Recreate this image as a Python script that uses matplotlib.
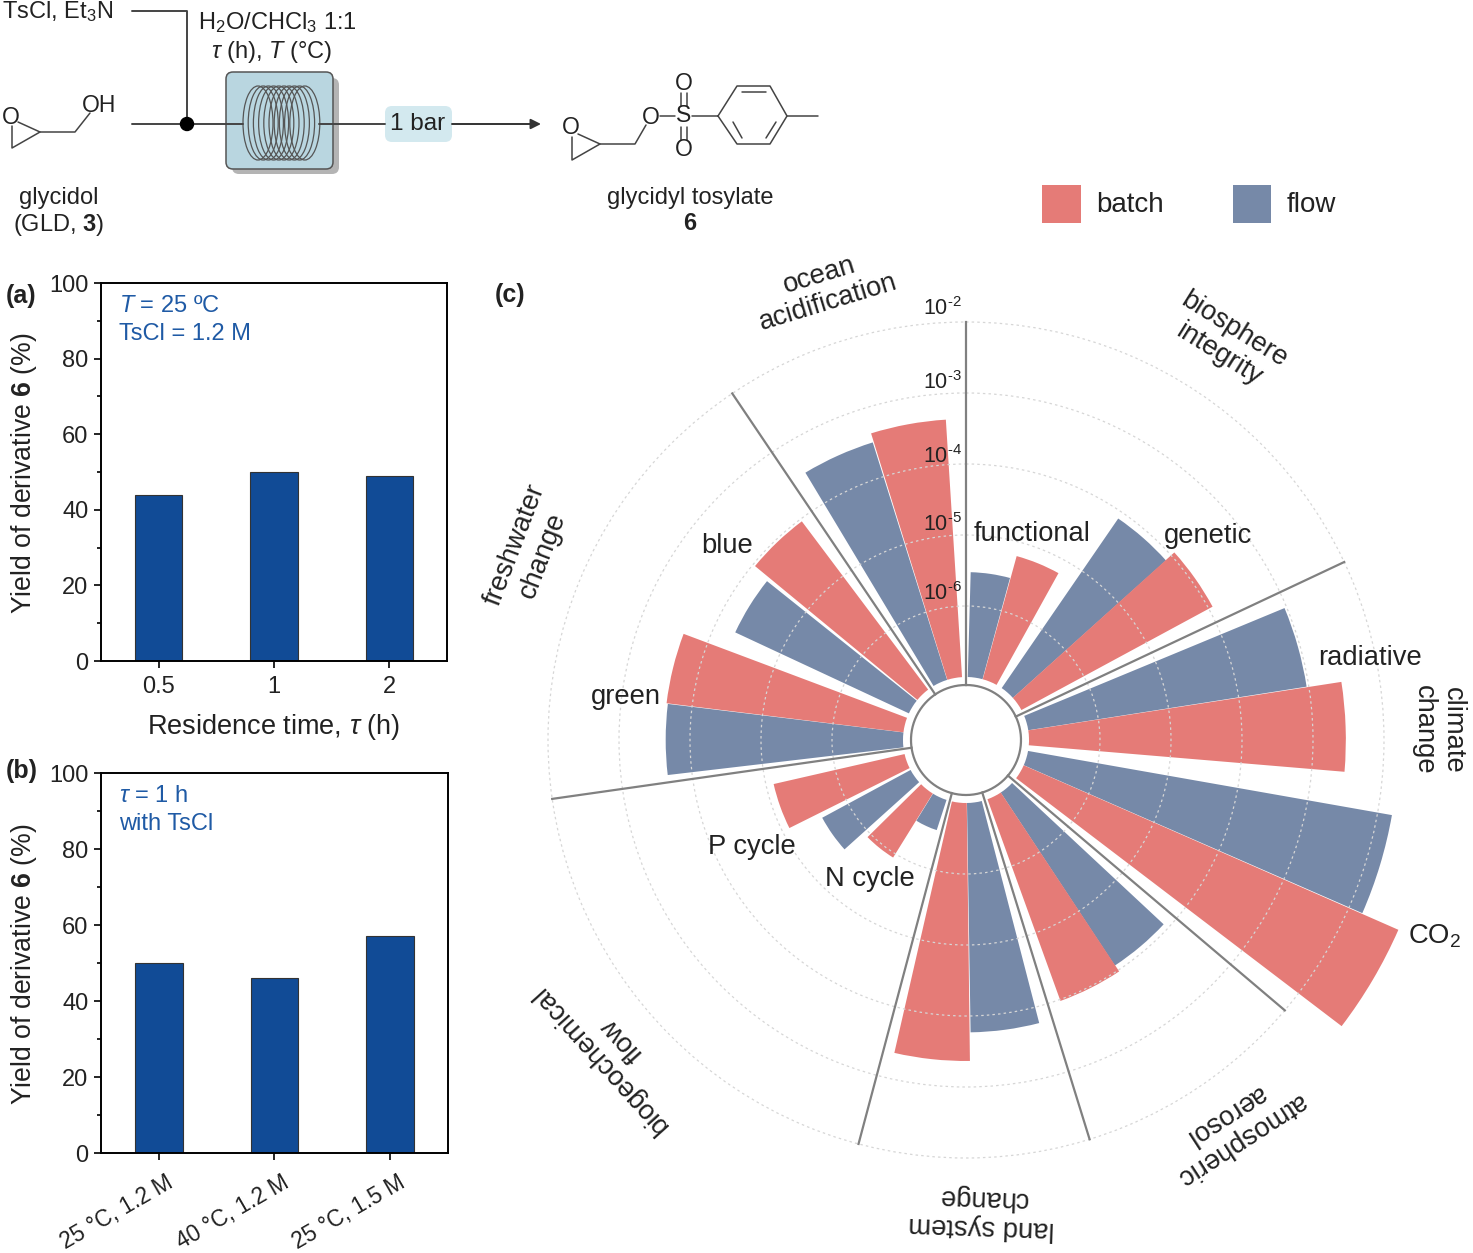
import numpy as np
import matplotlib
matplotlib.use("Agg")
import matplotlib.pyplot as plt
from matplotlib.patches import Circle, Ellipse, FancyBboxPatch, Rectangle
from matplotlib.transforms import ScaledTranslation

plt.rcParams['font.family'] = ['Liberation Sans', 'DejaVu Sans']
plt.rcParams['mathtext.fontset'] = 'custom'
plt.rcParams['mathtext.rm'] = 'Liberation Sans'
plt.rcParams['mathtext.it'] = 'Liberation Sans:italic'
plt.rcParams['mathtext.bf'] = 'Liberation Sans:bold'

W, H = 1473, 1253

# bar panels
time_labels = ['0.5', '1', '2']
time_yield = [44, 50, 49]
cond_labels = ['25 °C, 1.2 M', '40 °C, 1.2 M', '25 °C, 1.5 M']
cond_yield = [50, 46, 57]

# rose chart, clockwise from north
sub_names = ['functional', 'genetic', 'radiative', 'CO2', 'aerosol', 'land',
             'N cycle', 'P cycle', 'green', 'blue', 'ocean']
flow_vals = [3.0e-6, 7.9e-5, 9.3e-4, 1.6e-2, 8.3e-5, 1.7e-4,
             2.8e-7, 2.6e-6, 2.2e-4, 5.0e-5, 3.2e-4]
batch_vals = [6.3e-6, 1.15e-4, 2.9e-3, 5.8e-2, 1.05e-4, 4.3e-4,
              1.15e-6, 7.8e-6, 2.3e-4, 9.2e-5, 4.3e-4]

# angles of the layout (deg)
flow_start = [1.6, 34.5, 67.5, 100, 133, 165.5, 198, 228, 263.3, 295, 329]
batch_start = [15.4, 48, 81.2, 113.7, 146.5, 179.3, 211.8, 243.5, 277, 309.5, 342.8]
bar_width = 13.6
sector_edges = [0, 64.8, 130.3, 162.8, 194.9, 261.9, 326]

BATCH = '#E57B77'
FLOW = '#7689A8'
NAVY = '#114B96'
BLUE_TXT = '#1F5AA5'
GRAY = '#808080'
TXT = '#222222'

fig = plt.figure(figsize=(W / 100, H / 100), dpi=100, facecolor='white')


def box(x0, y0, x1, y1):
    return [x0 / W, 1 - y1 / H, (x1 - x0) / W, (y1 - y0) / H]


# page overlay in pixel coords, for the flow scheme and labels
page = fig.add_axes([0, 0, 1, 1], zorder=5)
page.set_xlim(0, W)
page.set_ylim(H, 0)
page.axis('off')


def label(x, y, s, size=17, rot=0, color=TXT, ha='center', va='center', **kw):
    # text sits about 2 px high with va=center when it is not rotated
    if rot == 0:
        y = y + 2
    page.text(x, y, s, fontsize=size, rotation=rot, color=color, ha=ha, va=va,
              rotation_mode='anchor', linespacing=1.15, **kw)


def bond(xs, ys, lw=1.1, color='#444444'):
    page.plot(xs, ys, color=color, lw=lw, solid_capstyle='round')


def bar_panel(pos, labels, values):
    ax = fig.add_axes(box(*pos))
    ax.bar(range(3), values, width=0.41, color=NAVY, edgecolor='#333333', linewidth=0.8)
    ax.set_xlim(-0.5, 2.5)
    ax.set_ylim(0, 100)
    ax.set_xticks(range(3))
    ax.set_yticks(range(0, 101, 20))
    ax.set_yticks(range(10, 100, 20), minor=True)
    ax.tick_params(axis='both', which='major', length=5, width=1.2, labelsize=17,
                   labelcolor=TXT, pad=4)
    ax.tick_params(axis='y', which='minor', length=3, width=1.2)
    for sp in ax.spines.values():
        sp.set_linewidth(1.4)
    ax.set_xticklabels(labels)
    return ax


ax_a = bar_panel((101, 283, 447, 661), time_labels, time_yield)
ax_a.tick_params(axis='x', pad=6)
ax_b = bar_panel((101, 773, 448, 1153), cond_labels, cond_yield)
ax_b.tick_params(axis='x', pad=8)
for t in ax_b.get_xticklabels():
    t.set_rotation(30)
    t.set_ha('right')
    t.set_va('top')
    t.set_fontsize(16.3)
    t.set_rotation_mode('anchor')
    t.set_transform(t.get_transform() + ScaledTranslation(5 / 72, 0, fig.dpi_scale_trans))

ylab = 'Yield of derivative $\\mathbf{6}$ (%)'
label(24, 473, ylab, size=19.2, rot=90)
label(24, 964, ylab, size=19.2, rot=90)
label(274, 725, 'Residence time, $\\mathit{\\tau}$ (h)', size=19.5)
label(6, 294, '(a)', size=18, ha='left', fontweight='bold')
label(6, 769, '(b)', size=18, ha='left', fontweight='bold')
label(495, 293, '(c)', size=18, ha='left', fontweight='bold')
label(119, 304, '$\\mathit{T}$ = 25 ºC', size=17, ha='left', color=BLUE_TXT)
label(119, 332, 'TsCl = 1.2 M', size=17, ha='left', color=BLUE_TXT)
label(119, 794, '$\\mathit{\\tau}$ = 1 h', size=17, ha='left', color=BLUE_TXT)
label(119, 822, 'with TsCl', size=17, ha='left', color=BLUE_TXT)

# rose chart: log10 of the value is the radius, 71 px per decade
center = (966, 740)
r0 = -7 - 63 / 71
rmax = -1.0
R = (rmax - r0) * 71
rose = fig.add_axes(box(center[0] - R, center[1] - R, center[0] + R, center[1] + R),
                    projection='polar', zorder=2)
rose.patch.set_visible(False)
rose.set_theta_zero_location('N')
rose.set_theta_direction(-1)
rose.set_ylim(r0, rmax)
for start, vals, col in [(flow_start, flow_vals, FLOW), (batch_start, batch_vals, BATCH)]:
    th = np.radians(np.array(start) + bar_width / 2)
    rose.bar(th, np.log10(vals) + 7, bottom=-7, width=np.radians(bar_width),
             color=col, linewidth=0, zorder=2)
rose.set_xticks([])
rose.set_yticks([-6, -5, -4, -3, -2])
rose.set_yticklabels([])
rose.tick_params(axis='y', length=0)
rose.yaxis.grid(True, color='#d6d6d6', linestyle=(0, (2, 2.5)), linewidth=0.9, zorder=3)
rose.set_axisbelow(False)
rose.spines['polar'].set_visible(False)
r_inner = -7 - 8 / 71
for a in sector_edges:
    rose.plot([np.radians(a)] * 2, [r_inner, -2], color=GRAY, lw=1.6, zorder=4)
tt = np.linspace(0, 2 * np.pi, 361)
rose.plot(tt, np.full_like(tt, r_inner), color=GRAY, lw=1.6, zorder=4)

for y, e in zip([307, 381, 455, 523, 592], [2, 3, 4, 5, 6]):
    label(962, y, '10$^{\\mathregular{\\text{-}%d}}$' % e, size=15.5, ha='right')

label(1032, 532, 'functional', size=19.7)
label(1208, 534, 'genetic', size=19.7)
label(1370, 656, 'radiative', size=19.7)
label(1435, 934, 'CO$_{\\mathregular{2}}$', size=19.7)
label(870, 877, 'N cycle', size=19.7)
label(752, 845, 'P cycle', size=19.7)
label(626, 695, 'green', size=19.7)
label(727, 544, 'blue', size=19.7)

label(824, 289, 'ocean\nacidification', size=19.7, rot=17, multialignment='center')
label(1226, 342, 'biosphere\nintegrity', size=19.7, rot=-32, multialignment='center')
label(1438, 730, 'climate\nchange', size=19.7, rot=-90, multialignment='center')
label(1233, 1127, 'atmospheric\naerosol', size=19.7, rot=213, multialignment='center')
label(982, 1212, 'land system\nchange', size=19.7, rot=178, multialignment='center')
label(611, 1049, 'biogeochemical\nflow', size=19.7, rot=132, multialignment='center')
label(529, 550, 'freshwater\nchange', size=19.7, rot=69, multialignment='center')

# legend
page.add_patch(Rectangle((1042, 185), 39, 38, color=BATCH, lw=0))
page.add_patch(Rectangle((1233, 185), 38, 38, color=FLOW, lw=0))
label(1096, 203, 'batch', size=20, ha='left')
label(1287, 203, 'flow', size=20, ha='left')

# flow scheme
bond([132, 187, 187], [11, 11, 124], lw=1.4)
page.add_patch(Circle((187, 124), 6.5, color='black', zorder=6))
page.add_patch(FancyBboxPatch((232, 78), 107, 96, boxstyle='round,pad=0,rounding_size=7',
                              fc='#B4B4B4', ec='none'))
page.add_patch(FancyBboxPatch((226, 72), 107, 97, boxstyle='round,pad=0,rounding_size=7',
                              fc='#B9D6E0', ec='#555555', lw=1.1))
for cx in np.arange(258, 305, 5.2):
    page.add_patch(Ellipse((cx, 123), 30, 74, fc='none', ec='#555555', lw=0.9))
bond([132, 243], [124, 124], lw=1.4)
bond([319, 385], [124, 124], lw=1.4)
page.add_patch(FancyBboxPatch((385, 106), 67, 36, boxstyle='round,pad=0,rounding_size=7',
                              fc='#D3E9EF', ec='none'))
label(418, 122, '1 bar', size=17.5)
page.annotate('', xy=(541, 124), xytext=(452, 124),
              arrowprops=dict(arrowstyle='-|>', color='#333333', lw=1.4, shrinkA=0, shrinkB=0,
                              mutation_scale=15))

label(2, 10, 'TsCl, Et$_{\\mathregular{3}}$N', size=17, ha='left')
label(277, 21, 'H$_{\\mathregular{2}}$O/CHCl$_{\\mathregular{3}}$ 1:1', size=17)
label(272, 50, '$\\mathit{\\tau}$ (h), $\\mathit{T}$ (°C)', size=17)
label(59, 196, 'glycidol', size=17)
label(59, 223, '(GLD, $\\mathbf{3}$)', size=17)
label(690, 196, 'glycidyl tosylate', size=17)
label(690, 222, '6', size=17, fontweight='bold')

# glycidol
label(11, 115, 'O', size=16.5)
label(99, 103, 'OH', size=16.5)
bond([12, 12, 40, 18], [126, 148, 132, 122])
bond([40, 75, 90], [132, 132, 113])

# glycidyl tosylate
label(571, 126, 'O', size=16.5)
label(651, 115, 'O', size=16.5)
label(684, 114, 'S', size=16.5)
label(684, 81, 'O', size=16.5)
label(684, 148, 'O', size=16.5)
bond([572, 572, 600, 578], [137, 160, 144, 134])
bond([600, 635, 646], [144, 144, 125])
bond([660, 675], [116, 116])
bond([692, 718], [116, 116])
for dx in (-3, 3):
    bond([684 + dx, 684 + dx], [93, 106])
    bond([684 + dx, 684 + dx], [127, 140])
bond([718, 737, 770, 787, 770, 737, 718], [116, 86, 86, 116, 144, 144, 116])
bond([787, 818], [116, 116])
bond([742, 766], [92, 92])
bond([742, 733], [138, 122])
bond([766, 776], [138, 122])

fig.savefig('out.png', dpi=100, facecolor='white')
